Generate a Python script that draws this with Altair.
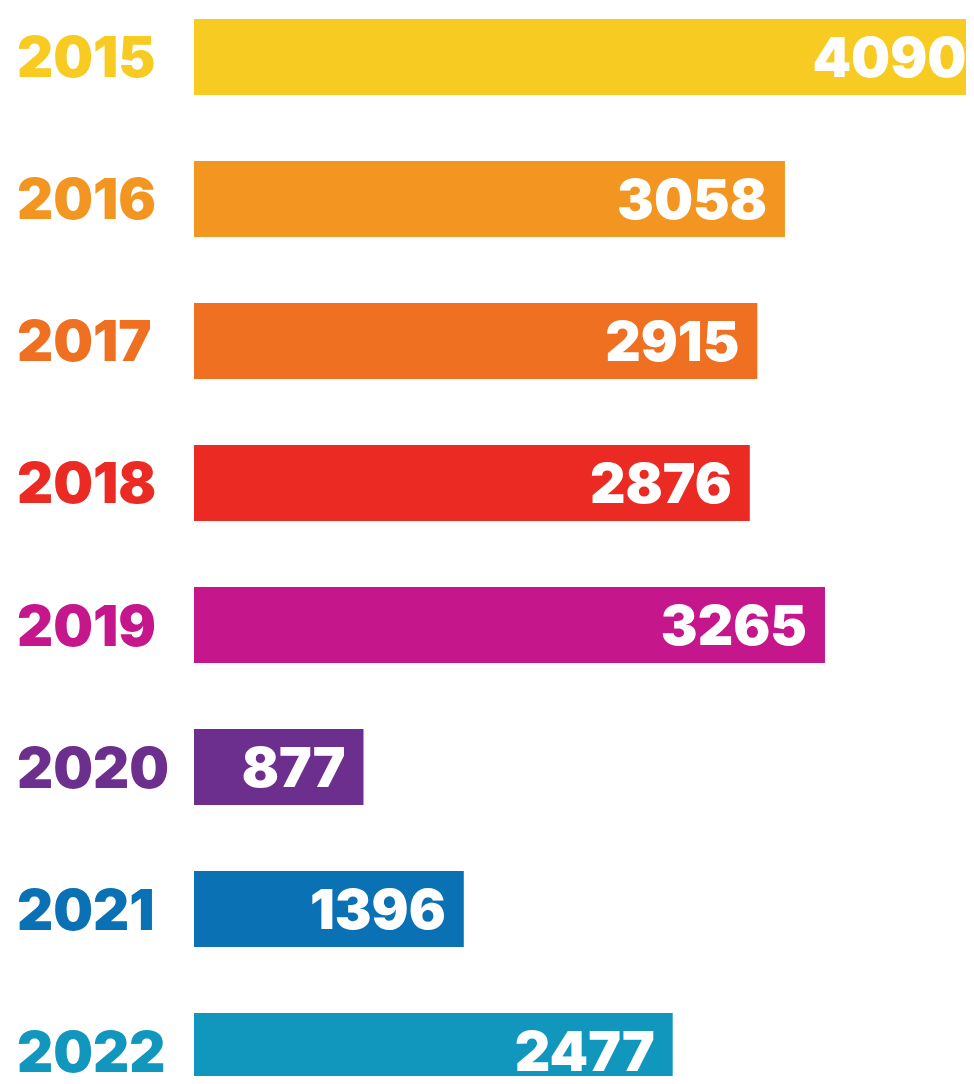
import altair as alt
import pandas as pd

years = ["2015", "2016", "2017", "2018", "2019", "2020", "2021", "2022"]
values = [4090, 3058, 2915, 2876, 3265, 877, 1396, 2477]
colors = ["#F8CB22", "#F39621", "#F07022", "#EC2A24", "#C5168B", "#6C2F8E", "#0B71B5", "#1197BD"]

df = pd.DataFrame({"year": years, "value": values})

y_enc = alt.Y("year:N", sort=years, axis=None,
              scale=alt.Scale(range=[11, 1081], paddingInner=0.4648, paddingOuter=0))
color_enc = alt.Color("year:N", scale=alt.Scale(domain=years, range=colors), legend=None)
x_scale = alt.Scale(domain=[0, 4090], range=[186, 976.4])

base = alt.Chart(df)

bars = base.mark_bar(cornerRadius=0).encode(
    y=y_enc,
    x=alt.X("value:Q", scale=x_scale, axis=None),
    x2=alt.value(186),
    color=color_enc,
)

year_labels = base.mark_text(
    align="left", baseline="alphabetic", dy=20.5,
    font="Inter", fontWeight=900, fontSize=56,
).encode(
    y=y_enc,
    x=alt.value(9),
    text="year:N",
    color=color_enc,
)

value_labels = base.mark_text(
    align="right", baseline="alphabetic", dx=-18, dy=20,
    font="Inter", fontWeight=900, fontSize=55, color="white",
).encode(
    y=y_enc,
    x=alt.X("value:Q", scale=x_scale, axis=None),
    text="value:Q",
)

chart = alt.layer(bars, year_labels, value_labels).properties(
    width=958, height=1068, padding=0, autosize=alt.AutoSizeParams(type="none")
).configure_view(stroke=None)

chart.save("out.html", embed_options={"renderer": "svg", "actions": False})
